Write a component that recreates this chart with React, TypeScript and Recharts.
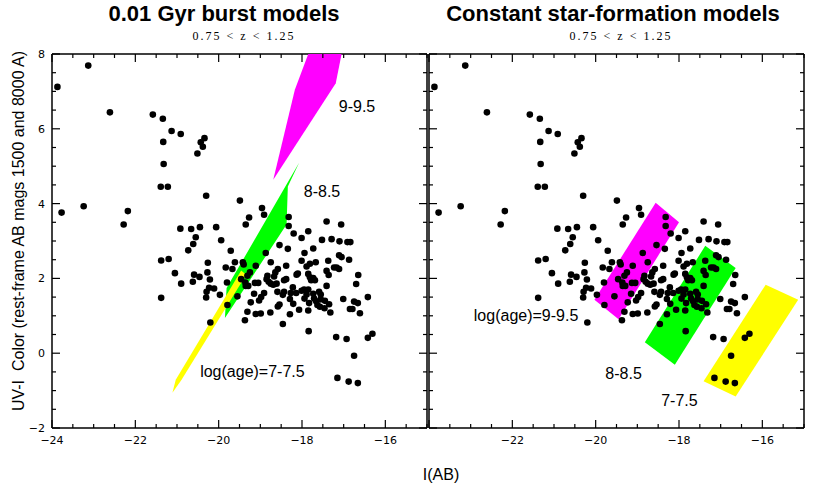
import { ScatterChart, Scatter, XAxis, YAxis, ReferenceDot } from 'recharts'

// galaxies: I(AB) magnitude and UV-I colour, same sample in both panels
const galaxyI = [
  -23.87, -23.13, -23.77, -23.24, -22.61, -22.28, -22.18, -21.58, -21.34, -21.13,
  -20.91, -21.33, -21.32, -21.39, -21.22, -20.34, -20.43, -20.38, -20.51, -20.30,
  -19.49, -18.96, -18.91, -19.27, -19.35, -18.32, -18.32, -17.41, -17.06, -20.92,
  -20.66, -20.45, -20.06,
  -20.55, -20.61, -20.73, -19.94, -19.71, -18.20, -18.01, -17.85, -17.52, -17.29,
  -17.10, -16.91, -16.84, -17.73, -18.54, -18.34, -21.38, -21.20, -21.05, -20.90,
  -21.38, -20.62, -20.59, -20.46, -20.26, -20.27, -20.21, -20.23, -20.11, -20.29,
  -20.30, -19.97, -20.20, -19.79, -19.80, -19.83, -19.67, -19.61, -19.42, -19.40,
  -19.55, -19.46, -19.36, -19.31, -19.25, -19.35, -19.29, -19.13, -19.11, -19.15,
  -19.23, -19.31, -19.37, -19.11, -18.99, -19.05, -19.03, -18.98, -18.91, -18.87,
  -18.75, -18.83, -18.85, -18.80, -18.75, -18.69, -18.61, -18.76, -18.64, -18.67,
  -18.58, -18.38, -18.43, -18.38, -18.59, -18.46, -18.43, -18.54, -18.58, -18.46,
  -18.29, -18.27, -18.29, -18.21, -18.22, -18.14, -18.10, -18.13, -18.07, -18.01,
  -18.01, -17.94, -17.94, -17.95, -17.89, -17.85, -17.81, -17.78, -17.73, -17.69,
  -17.81, -17.85, -17.89, -17.83, -17.85, -17.84, -17.73, -17.71, -17.66, -17.67,
  -17.59, -17.55, -17.63, -17.57, -17.46, -17.55, -17.45, -17.35, -17.41, -17.41,
  -17.36, -17.37, -17.32, -17.23, -17.17, -17.11, -17.11, -17.05, -16.87, -17.01,
  -17.18, -16.93, -16.75, -17.15, -16.88, -16.66, -16.85, -16.79, -16.75, -16.66,
  -16.70, -16.65, -16.61, -16.42, -16.42, -16.31,
]
const galaxyUVI = [
  7.12, 7.69, 3.76, 3.93, 6.44, 3.44, 3.80, 6.38, 6.27, 5.94,
  5.86, 5.65, 5.06, 4.45, 4.45, 5.75, 5.64, 5.52, 5.34, 4.21,
  4.08, 3.88, 3.70, 3.63, 3.44, 3.64, 3.40, 3.52, 3.44, 3.33,
  3.32, 3.37, 3.37,
  3.10, 2.92, 2.75, 3.02, 2.74, 3.20, 3.08, 3.26, 3.03, 3.05,
  2.99, 2.97, 2.97, 2.80, 2.89, 2.79, 2.48, 2.52, 2.14, 1.86,
  1.48, 1.91, 2.10, 2.04, 2.42, 2.16, 1.97, 1.75, 1.73, 1.64,
  1.49, 1.56, 0.82, 1.29, 1.89, 2.29, 2.25, 2.43, 2.43, 2.37,
  1.52, 1.98, 1.89, 2.07, 2.16, 1.80, 1.80, 1.88, 2.34, 1.59,
  1.36, 1.11, 0.88, 1.05, 1.06, 1.88, 1.41, 1.50, 1.61, 2.68,
  2.43, 2.07, 1.98, 1.91, 1.86, 1.83, 1.86, 1.09, 2.16, 2.05,
  2.25, 2.34, 1.95, 1.98, 1.64, 1.56, 1.64, 1.30, 1.25, 0.78,
  1.04, 1.61, 1.45, 1.32, 1.76, 1.61, 2.13, 2.10, 1.16, 1.67,
  2.47, 2.68, 1.46, 1.70, 2.32, 2.12, 2.03, 1.95, 2.01, 1.95,
  2.39, 1.70, 1.57, 1.34, 1.14, 0.59, 1.59, 1.46, 1.39, 2.43,
  1.64, 1.57, 1.29, 1.24, 1.20, 1.44, 1.40, 1.31, 1.80, 2.20,
  2.09, 2.47, 1.09, 2.29, 2.29, 2.25, 2.62, 2.57, 2.50, 1.45,
  0.43, 0.38, -0.07, -0.66, -0.76, -0.80, 1.18, 1.18, 1.38, 1.34,
  1.85, 2.09, 1.07, 1.50, 0.41, 0.52,
]

// model tracks, burst panel (polygon vertices in I, UV-I)
const burst99I = [-17.85, -17.05, -17.19, -18.69, -18.17]
const burst99C = [8, 8, 7.22, 4.64, 7.05]
const burst88I = [-18.07, -18.34, -18.37, -19.85, -19.81]
const burst88C = [5.09, 4.46, 3.44, 0.94, 1.74]
const burst77I = [-21.11, -21.03, -19.46, -19.34, -20.89]
const burst77C = [-1.06, -0.71, 2.21, 2.10, -0.71]

// model tracks, constant star-formation panel
const csf99I = [-18.56, -18.0, -19.45, -20.03]
const csf99C = [4.02, 3.5, 0.91, 1.43]
const csf88I = [-17.37, -16.64, -18.10, -18.82]
const csf88C = [2.87, 2.28, -0.31, 0.29]
const csf77I = [-15.92, -15.14, -16.64, -17.41]
const csf77C = [1.83, 1.43, -1.16, -0.75]

const burstLabels = ['9-9.5', '8-8.5', 'log(age)=7-7.5']
const burstLabelI = [-16.68, -17.52, -19.19]
const burstLabelC = [6.59, 4.34, -0.48]
const csfLabels = ['log(age)=9-9.5', '8-8.5', '7-7.5']
const csfLabelI = [-21.67, -19.33, -17.99]
const csfLabelC = [1.02, -0.53, -1.27]

const xTicks = [-24, -23.5, -23, -22.5, -22, -21.5, -21, -20.5, -20, -19.5, -19, -18.5, -18, -17.5, -17, -16.5, -16, -15.5, -15]
const xMajor = [-24, -22, -20, -18, -16]
const yTicks = [-2, -1.5, -1, -0.5, 0, 0.5, 1, 1.5, 2, 2.5, 3, 3.5, 4, 4.5, 5, 5.5, 6, 6.5, 7, 7.5, 8]
const yMajor = [-2, 0, 2, 4, 6, 8]

const MAGENTA = '#ff00ff'
const GREEN = '#00ff00'
const YELLOW = '#ffff00'

const toPts = (xs: number[], ys: number[]) => xs.map((x, i) => ({ x, y: ys[i] }))
const galaxies = toPts(galaxyI, galaxyUVI)

const fmt = (v: number) => (v < 0 ? `\u2212${-v}` : `${v}`)
const tickFont = { fill: '#000', fontSize: 11, fontFamily: 'DejaVu Sans' }
const frame = { stroke: '#000', strokeWidth: 1.5 }

// tick marks point into the plot; majors are longer, some carry a label
function tickMark(side: 'b' | 't' | 'l' | 'r', major: number[], labelled: number[]) {
  return (p: any) => {
    const v = p.payload.value
    const len = major.includes(v) ? 8 : 4
    const { x, y } = p
    let line
    if (side === 'b') line = <line x1={x} x2={x} y1={y} y2={y - len} />
    else if (side === 't') line = <line x1={x} x2={x} y1={y} y2={y + len} />
    else if (side === 'l') line = <line x1={x} x2={x + len} y1={y} y2={y} />
    else line = <line x1={x} x2={x - len} y1={y} y2={y} />
    return (
      <g stroke="#000" strokeWidth={1.2}>
        {line}
        {labelled.includes(v) && side === 'b' && (
          <text x={x} y={y + 16} textAnchor="middle" stroke="none" {...tickFont}>{fmt(v)}</text>
        )}
        {labelled.includes(v) && side === 'l' && (
          <text x={x - 7} y={y + 4} textAnchor="end" stroke="none" {...tickFont}>{fmt(v)}</text>
        )}
      </g>
    )
  }
}

function frameAxes(xLabels: number[], yLabels: number[]) {
  const xc = { type: 'number' as const, dataKey: 'x', domain: [-24, -15], allowDataOverflow: true, interval: 0 as const,
    ticks: xTicks, height: 1, tickSize: 0, tickMargin: 0, tickLine: false, axisLine: frame }
  const yc = { type: 'number' as const, dataKey: 'y', domain: [-2, 8], allowDataOverflow: true, interval: 0 as const,
    ticks: yTicks, width: 1, tickSize: 0, tickMargin: 0, tickLine: false, axisLine: frame }
  return [
    <XAxis key="b" xAxisId="b" orientation="bottom" {...xc} tick={tickMark('b', xMajor, xLabels)} />,
    <XAxis key="t" xAxisId="t" orientation="top" {...xc} tick={tickMark('t', xMajor, [])} />,
    <YAxis key="l" yAxisId="l" orientation="left" {...yc} tick={tickMark('l', yMajor, yLabels)} />,
    <YAxis key="r" yAxisId="r" orientation="right" {...yc} tick={tickMark('r', yMajor, [])} />,
  ]
}

const noShape = () => <g />
const dot = (p: any) => <circle cx={p.cx} cy={p.cy} r={3.3} fill="#000" />

function region(key: string, xs: number[], ys: number[], color: string) {
  return (
    <Scatter key={key} xAxisId="b" yAxisId="l" data={toPts(xs, ys)} shape={noShape}
      line={{ fill: color, stroke: 'none' }} lineType="joint" isAnimationActive={false} />
  )
}

function labels(texts: string[], xs: number[], ys: number[]) {
  return texts.map((t, i) => (
    <ReferenceDot key={t} xAxisId="b" yAxisId="l" x={xs[i]} y={ys[i]} r={0} fill="none" stroke="none"
      label={{ value: t, position: 'center', fill: '#000', fontSize: 16, fontFamily: 'Liberation Sans' }} />
  ))
}

export default function App() {
  return (
    <div style={{ position: 'absolute', left: 0, top: 0, width: 830, height: 483, background: '#fff' }}>
      <div style={{ position: 'absolute', left: 0, top: 0 }}>
        <ScatterChart width={430} height={483} margin={{ top: 53, left: 51, right: 2, bottom: 54 }}>
          {frameAxes(xMajor, yMajor)}
          {region('m', burst99I, burst99C, MAGENTA)}
          {region('g', burst88I, burst88C, GREEN)}
          {region('y', burst77I, burst77C, YELLOW)}
          <Scatter xAxisId="b" yAxisId="l" data={galaxies} shape={dot} isAnimationActive={false} />
          {labels(burstLabels, burstLabelI, burstLabelC)}
        </ScatterChart>
      </div>
      <div style={{ position: 'absolute', left: 400, top: 0 }}>
        <ScatterChart width={430} height={483} margin={{ top: 53, left: 28, right: 25, bottom: 54 }}>
          {frameAxes([-22, -20, -18, -16], [])}
          {region('m', csf99I, csf99C, MAGENTA)}
          {region('g', csf88I, csf88C, GREEN)}
          {region('y', csf77I, csf77C, YELLOW)}
          <Scatter xAxisId="b" yAxisId="l" data={galaxies} shape={dot} isAnimationActive={false} />
          {labels(csfLabels, csfLabelI, csfLabelC)}
        </ScatterChart>
      </div>
      <svg width={830} height={483} style={{ position: 'absolute', left: 0, top: 0, pointerEvents: 'none' }}>
        <g fontFamily="Liberation Sans" fill="#000">
          <text x={224} y={21} textAnchor="middle" fontSize={22} fontWeight="bold">0.01 Gyr burst models</text>
          <text x={613} y={21} textAnchor="middle" fontSize={22} fontWeight="bold">Constant star-formation models</text>
          <text x={24} y={231} transform="rotate(-90, 24, 231)" textAnchor="middle" fontSize={16}
            style={{ whiteSpace: 'pre' }}>UV-I  Color (rest-frame AB mags 1500 and 8000 A)</text>
          <text x={441} y={480} textAnchor="middle" fontSize={16}>I(AB)</text>
        </g>
        <g fontFamily="Liberation Serif" fill="#000" fontSize={12} letterSpacing={2}>
          <text x={244} y={40} textAnchor="middle" style={{ whiteSpace: 'pre' }}>0.75 &lt; z &lt; 1.25</text>
          <text x={621} y={40} textAnchor="middle" style={{ whiteSpace: 'pre' }}>0.75 &lt; z &lt; 1.25</text>
        </g>
      </svg>
    </div>
  )
}
